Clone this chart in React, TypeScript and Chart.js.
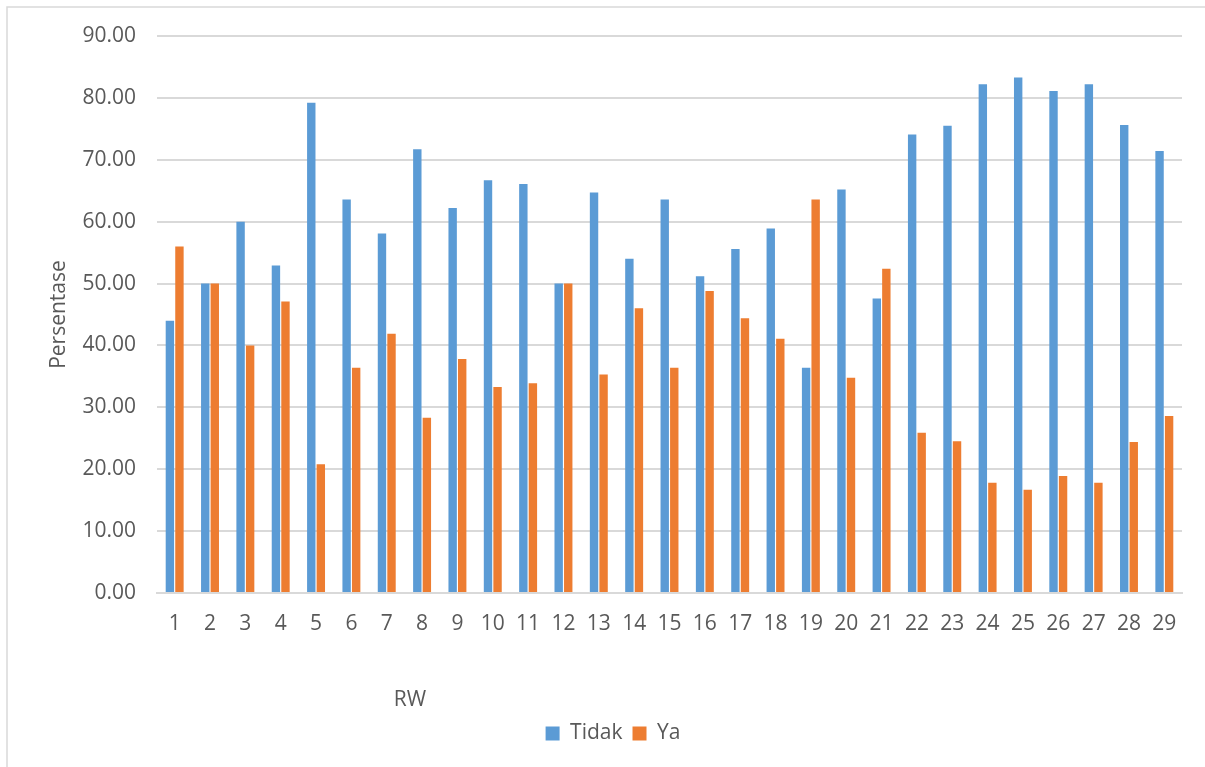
import React, { useEffect, useRef } from "react";
import { Chart, registerables } from "chart.js";

Chart.register(...registerables);

const categories: string[] = [
  "1", "2", "3", "4", "5", "6", "7", "8", "9", "10",
  "11", "12", "13", "14", "15", "16", "17", "18", "19", "20",
  "21", "22", "23", "24", "25", "26", "27", "28", "29",
];

const tidakValues: number[] = [
  44.0, 50.0, 60.0, 52.9, 79.2, 63.6, 58.1, 71.7, 62.2, 66.7,
  66.1, 50.0, 64.7, 54.0, 63.6, 51.2, 55.6, 58.9, 36.4, 65.2,
  47.6, 74.1, 75.5, 82.2, 83.3, 81.1, 82.2, 75.6, 71.4,
];

const yaValues: number[] = [
  56.0, 50.0, 40.0, 47.1, 20.8, 36.4, 41.9, 28.3, 37.8, 33.3,
  33.9, 50.0, 35.3, 46.0, 36.4, 48.8, 44.4, 41.1, 63.6, 34.8,
  52.4, 25.9, 24.5, 17.8, 16.7, 18.9, 17.8, 24.4, 28.6,
];

const seriesNames: string[] = ["Tidak", "Ya"];
const yTitle = "Persentase";
const xTitle = "RW";

const FONT = "'Open Sans', 'Noto Sans', sans-serif";
const TEXT = "#595959";
const GRID = "#D9D9D9";

export default function App() {
  const ref = useRef<HTMLCanvasElement | null>(null);

  useEffect(() => {
    if (!ref.current) return;

    const framePlugin = {
      id: "frame",
      beforeDraw(chart: any) {
        const ctx = chart.ctx;
        ctx.save();
        ctx.fillStyle = "#ffffff";
        ctx.fillRect(0, 0, chart.width, chart.height);
        ctx.strokeStyle = GRID;
        ctx.lineWidth = 1.5;
        ctx.beginPath();
        ctx.moveTo(7, chart.height);
        ctx.lineTo(7, 7);
        ctx.lineTo(chart.width, 7);
        ctx.stroke();
        ctx.restore();
      },
      afterDraw(chart: any) {
        const ctx = chart.ctx;
        ctx.save();
        ctx.fillStyle = TEXT;
        ctx.font = `21px ${FONT}`;
        ctx.textAlign = "center";
        ctx.textBaseline = "middle";
        ctx.fillText(xTitle, 410, 700);
        ctx.restore();
      },
    };

    const chart = new Chart(ref.current, {
      type: "bar",
      data: {
        labels: categories,
        datasets: [
          {
            label: seriesNames[0],
            data: tidakValues,
            backgroundColor: "#5B9BD5",
            categoryPercentage: 0.54,
            barPercentage: 0.88,
          },
          {
            label: seriesNames[1],
            data: yaValues,
            backgroundColor: "#ED7D31",
            categoryPercentage: 0.54,
            barPercentage: 0.88,
          },
        ],
      },
      options: {
        animation: false,
        responsive: false,
        devicePixelRatio: 1,
        layout: { padding: { left: 44, right: 23, top: 36, bottom: 13 } },
        plugins: {
          tooltip: { enabled: false },
          legend: {
            position: "bottom",
            labels: {
              boxWidth: 14,
              boxHeight: 14,
              padding: 10,
              color: TEXT,
              font: { family: FONT, size: 21 },
            },
          },
        },
        scales: {
          x: {
            grid: { display: false, drawTicks: false },
            border: { display: true, color: GRID, width: 2 },
            ticks: {
              color: TEXT,
              font: { family: FONT, size: 21 },
              padding: 18,
              maxRotation: 0,
              autoSkip: false,
            },
            afterFit(scale: any) {
              scale.height = 120;
            },
          },
          y: {
            min: 0,
            max: 90,
            grid: { color: GRID, lineWidth: 2, drawTicks: false },
            border: { display: false },
            ticks: {
              stepSize: 10,
              color: TEXT,
              font: { family: FONT, size: 21 },
              padding: 21,
              callback: (v: any) => Number(v).toFixed(2),
            },
            title: {
              display: true,
              text: yTitle,
              color: TEXT,
              font: { family: FONT, size: 21 },
              padding: { top: 2, bottom: 0 },
            },
            afterFit(scale: any) {
              scale.width = 113;
            },
          },
        },
      },
      plugins: [framePlugin],
    });

    return () => chart.destroy();
  }, []);

  return (
    <div style={{ position: "fixed", left: 0, top: 0, width: 1205, height: 767, background: "#fff" }}>
      <canvas ref={ref} width={1205} height={767} style={{ display: "block", width: 1205, height: 767 }} />
    </div>
  );
}
